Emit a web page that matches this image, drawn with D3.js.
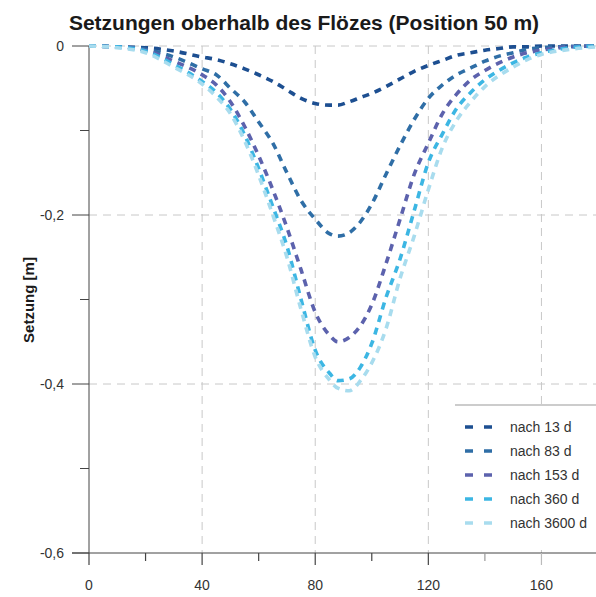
<!DOCTYPE html>
<html>
<head>
<meta charset="utf-8">
<script src="https://cdn.jsdelivr.net/npm/d3@7"></script>
<style>
  body { margin: 0; background: #fff; }
  svg text { font-family: "Liberation Sans", Arial, sans-serif; }
</style>
</head>
<body>
<div id="chart"></div>
<script>
// Position along the section [m]
const positions = [0, 10, 20, 30, 40, 45, 50, 55, 60, 65, 70, 75, 80, 85, 88, 92, 96, 100, 105, 110, 115, 120, 125, 130, 135, 140, 145, 150, 155, 160, 170, 180];

// Setzung [m] per time step
const nach13 = [0, -0.001, -0.002, -0.006, -0.013, -0.016, -0.021, -0.027, -0.034, -0.042, -0.052, -0.062, -0.068, -0.07, -0.07, -0.066, -0.061, -0.056, -0.048, -0.039, -0.03, -0.023, -0.017, -0.011, -0.008, -0.005, -0.003, -0.001, -0.001, 0, 0, 0];
const nach83 = [0, -0.001, -0.004, -0.013, -0.027, -0.034, -0.05, -0.066, -0.09, -0.115, -0.15, -0.183, -0.205, -0.222, -0.225, -0.221, -0.208, -0.187, -0.152, -0.118, -0.087, -0.062, -0.046, -0.034, -0.026, -0.018, -0.012, -0.008, -0.004, -0.002, -0.0005, 0];
const nach153 = [0, -0.001, -0.005, -0.018, -0.034, -0.046, -0.066, -0.095, -0.13, -0.17, -0.215, -0.265, -0.315, -0.342, -0.35, -0.345, -0.331, -0.306, -0.258, -0.205, -0.152, -0.115, -0.08, -0.057, -0.04, -0.029, -0.02, -0.013, -0.008, -0.005, -0.001, 0];
const nach360 = [0, -0.001, -0.006, -0.022, -0.042, -0.055, -0.075, -0.105, -0.145, -0.19, -0.237, -0.3, -0.36, -0.387, -0.396, -0.394, -0.38, -0.352, -0.298, -0.252, -0.195, -0.138, -0.104, -0.074, -0.055, -0.04, -0.029, -0.02, -0.013, -0.008, -0.002, 0];
const nach3600 = [0, -0.002, -0.008, -0.025, -0.045, -0.06, -0.08, -0.112, -0.153, -0.2, -0.25, -0.312, -0.368, -0.395, -0.405, -0.408, -0.396, -0.375, -0.335, -0.275, -0.225, -0.17, -0.12, -0.088, -0.066, -0.048, -0.035, -0.025, -0.016, -0.01, -0.004, -0.001];

const seriesNames = ["nach 13 d", "nach 83 d", "nach 153 d", "nach 360 d", "nach 3600 d"];
const seriesColors = ["#1d4f91", "#2f6ea6", "#5c62ad", "#3cb6e3", "#a8dcee"];

const xTicksMajor = [0, 40, 80, 120, 160];
const xTicksMinor = [20, 60, 100, 140];
const yTicksMajor = [0, -0.2, -0.4, -0.6];
const yTicksMinor = [-0.1, -0.3, -0.5];

const width = 596, height = 597;
const seriesValues = [nach13, nach83, nach153, nach360, nach3600];

const svg = d3.select("#chart")
    .append("svg")
    .attr("width", width)
    .attr("height", height);

const x = d3.scaleLinear().domain([0, 180]).range([89, 598]);
const y = d3.scaleLinear().domain([0, -0.6]).range([46, 553]);

const fmt = d => d === 0 ? "0" : d3.format(".1f")(d).replace(".", ",").replace("−", "-");

// grid
svg.append("g")
    .selectAll("line")
    .data(xTicksMajor.filter(d => d > 0))
    .enter()
    .append("line")
    .attr("x1", d => x(d)).attr("x2", d => x(d))
    .attr("y1", y(0)).attr("y2", y(-0.6))
    .attr("stroke", "#c8c8c8")
    .attr("stroke-dasharray", "8,6");

svg.append("g")
    .selectAll("line")
    .data(yTicksMajor.filter(d => d > -0.6))
    .enter()
    .append("line")
    .attr("x1", x(0)).attr("x2", width)
    .attr("y1", d => y(d)).attr("y2", d => y(d))
    .attr("stroke", "#c8c8c8")
    .attr("stroke-dasharray", "8,6");

// axes
const axisColor = "#444";
svg.append("line")
    .attr("x1", x(0)).attr("x2", x(0))
    .attr("y1", y(0)).attr("y2", y(-0.6))
    .attr("stroke", axisColor);
svg.append("line")
    .attr("x1", 72).attr("x2", width)
    .attr("y1", y(-0.6)).attr("y2", y(-0.6))
    .attr("stroke", axisColor);

svg.append("g")
    .selectAll("line")
    .data(yTicksMajor)
    .enter()
    .append("line")
    .attr("x1", 72).attr("x2", x(0))
    .attr("y1", d => y(d)).attr("y2", d => y(d))
    .attr("stroke", axisColor);
svg.append("g")
    .selectAll("line")
    .data(yTicksMinor)
    .enter()
    .append("line")
    .attr("x1", 80).attr("x2", x(0))
    .attr("y1", d => y(d)).attr("y2", d => y(d))
    .attr("stroke", axisColor);

svg.append("g")
    .selectAll("line")
    .data(xTicksMajor)
    .enter()
    .append("line")
    .attr("x1", d => x(d)).attr("x2", d => x(d))
    .attr("y1", y(-0.6)).attr("y2", y(-0.6) + 12)
    .attr("stroke", (d, i) => i < 4 ? axisColor : "#bbb")
    .attr("stroke-width", 1.2);
svg.append("g")
    .selectAll("line")
    .data(xTicksMinor)
    .enter()
    .append("line")
    .attr("x1", d => x(d)).attr("x2", d => x(d))
    .attr("y1", y(-0.6)).attr("y2", y(-0.6) + 8)
    .attr("stroke", (d, i) => i < 3 ? axisColor : "#999")
    .attr("stroke-width", 1.2);

svg.append("g")
    .selectAll("text")
    .data(yTicksMajor)
    .enter()
    .append("text")
    .attr("x", 64)
    .attr("y", d => y(d) + 5)
    .attr("text-anchor", "end")
    .attr("font-size", 14)
    .attr("fill", "#333")
    .text(fmt);

svg.append("g")
    .selectAll("text")
    .data(xTicksMajor)
    .enter()
    .append("text")
    .attr("x", d => x(d))
    .attr("y", 590)
    .attr("text-anchor", "middle")
    .attr("font-size", 14)
    .attr("fill", "#333")
    .text(d => d);

// curves
const line = d3.line()
    .x((d, i) => x(positions[i]))
    .y(d => y(d))
    .curve(d3.curveMonotoneX);

svg.append("g")
    .selectAll("path")
    .data(seriesValues)
    .enter()
    .append("path")
    .attr("d", line)
    .attr("fill", "none")
    .attr("stroke", (d, i) => seriesColors[i])
    .attr("stroke-width", 3.6)
    .attr("stroke-dasharray", "7,6");

// legend
const legend = svg.append("g");
legend.append("rect")
    .attr("x", 455).attr("y", 405)
    .attr("width", width - 455).attr("height", 140)
    .attr("fill", "#fff");
legend.append("line")
    .attr("x1", 455).attr("x2", width)
    .attr("y1", 405).attr("y2", 405)
    .attr("stroke", "#999");

const items = legend.selectAll("g.item")
    .data(seriesNames)
    .enter()
    .append("g")
    .attr("transform", (d, i) => `translate(0, ${427 + i * 24})`);
items.append("line")
    .attr("x1", 465).attr("x2", 492)
    .attr("stroke", (d, i) => seriesColors[i])
    .attr("stroke-width", 3.5)
    .attr("stroke-dasharray", "8,11");
items.append("text")
    .attr("x", 510)
    .attr("y", 5)
    .attr("font-size", 14)
    .attr("fill", "#333")
    .text(d => d);

// title and axis label
svg.append("text")
    .attr("x", 304)
    .attr("y", 30)
    .attr("text-anchor", "middle")
    .attr("font-size", 21)
    .attr("font-weight", "bold")
    .attr("fill", "#1a1a1a")
    .text("Setzungen oberhalb des Flözes (Position 50 m)");

svg.append("text")
    .attr("transform", "translate(34, 300) rotate(-90)")
    .attr("text-anchor", "middle")
    .attr("font-size", 15)
    .attr("font-weight", "bold")
    .attr("fill", "#1a1a1a")
    .text("Setzung [m]");
</script>
</body>
</html>
